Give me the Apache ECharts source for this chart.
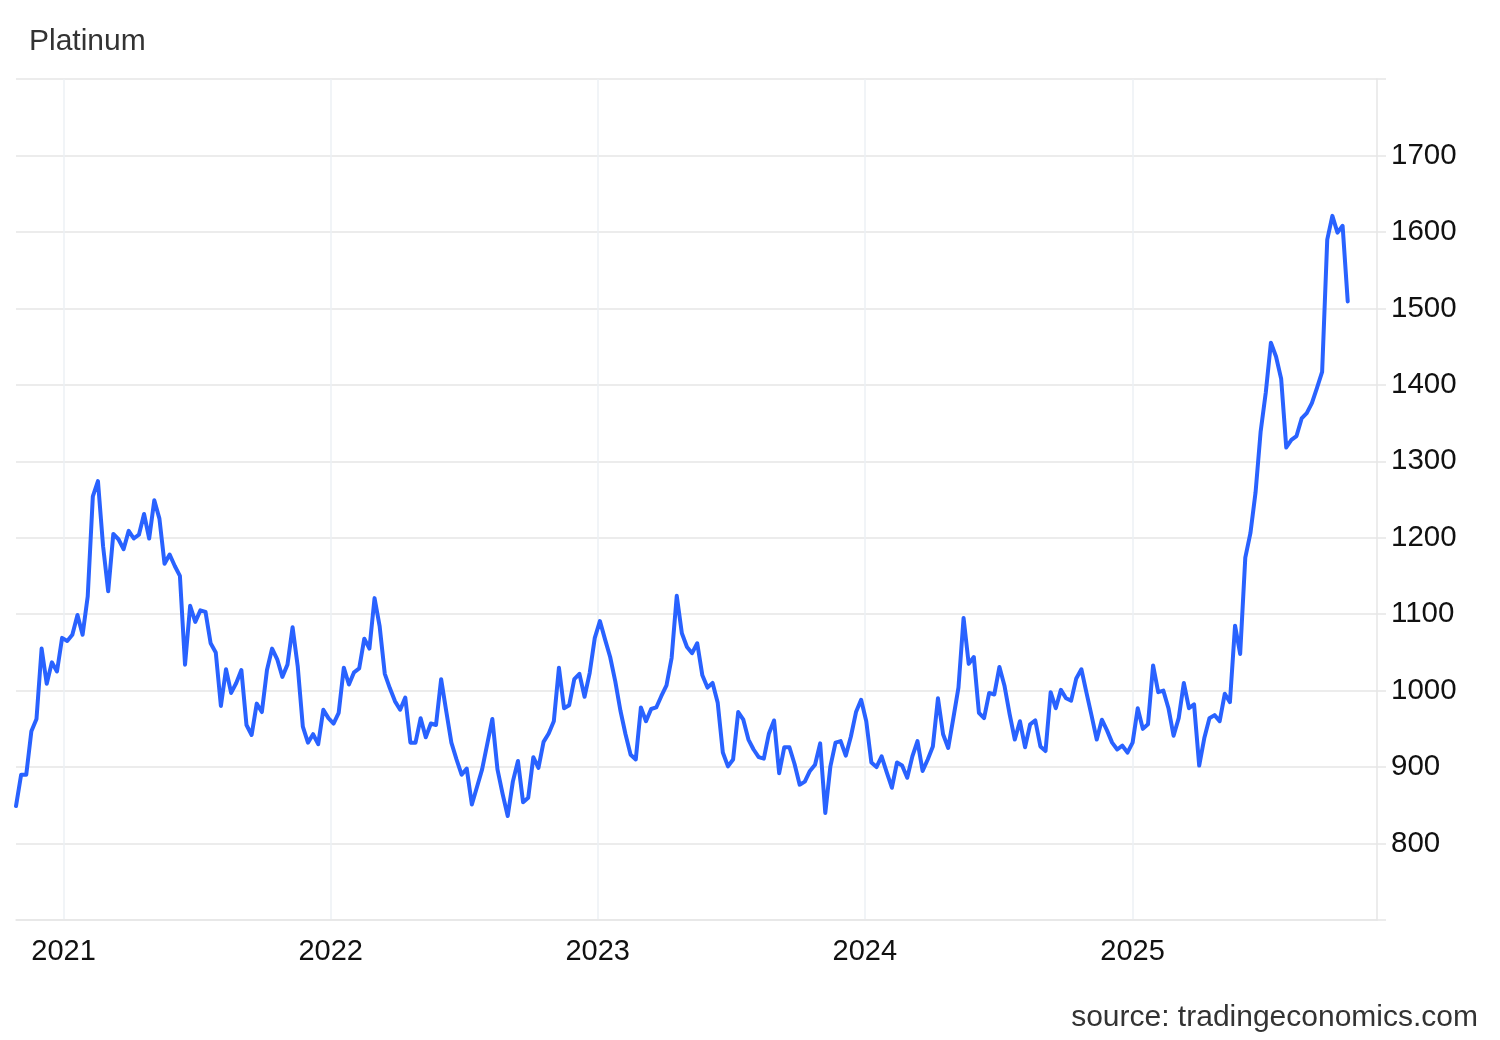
<!DOCTYPE html>
<html>
<head>
<meta charset="utf-8">
<script src="https://cdn.jsdelivr.net/npm/echarts@6/dist/echarts.min.js"></script>
<style>
html,body{margin:0;padding:0;background:#fff;}
#chart{width:1500px;height:1040px;}
</style>
</head>
<body>
<div id="chart"></div>
<script>
// Weekly platinum prices (USD/t.oz), first week 2020-10-28
const startDate = '2020-10-28';
const prices = [
849,890,890,947,963,1055,1009,1037,1025,1069,
1065,1073,1099,1073,1123,1254,1274,1189,1130,1205,
1198,1185,1209,1199,1204,1231,1199,1249,1225,1166,
1178,1163,1150,1034,1111,1090,1105,1103,1062,1050,
980,1028,997,1010,1027,955,942,983,972,1027,
1055,1041,1018,1034,1083,1032,953,932,943,930,
975,964,957,971,1030,1008,1024,1029,1068,1055,
1121,1084,1022,1003,986,975,991,932,932,964,
939,957,955,1015,973,932,910,890,898,851,
874,897,930,963,897,865,836,881,908,854,
860,913,899,933,944,960,1030,977,981,1015,
1022,992,1023,1069,1091,1067,1044,1012,974,943,
916,910,978,960,976,978,993,1007,1043,1124,
1075,1057,1049,1062,1020,1004,1010,984,919,901,
910,972,962,936,923,913,911,944,961,892,
926,926,904,877,881,895,903,931,840,901,
932,934,915,940,972,988,960,906,900,914,
893,873,906,902,886,914,934,895,910,927,
990,943,925,964,1004,1095,1035,1044,971,964,
997,995,1031,1006,969,936,960,926,956,961,
927,921,998,977,1001,990,987,1016,1028,997,
967,936,962,948,932,923,928,919,932,977,
950,956,1033,998,1000,977,941,964,1010,977,
982,902,938,964,968,960,996,985,1085,1048,
1174,1206,1259,1339,1390,1455,1437,1408,1318,1328,
1333,1356,1363,1376,1396,1417,1590,1621,1599,1608,
1509
];
const yearTicks = ['2021-01-01','2022-01-01','2023-01-01','2024-01-01','2025-01-01'];
const yTickMin = 700, yTickMax = 1800, yTickStep = 100;
const xMin = '2020-10-28', xMax = '2025-12-01';
const titleText = 'Platinum';
const sourceText = 'source: tradingeconomics.com';

const DAY = 86400000;
const toTs = d => Date.parse(d + 'T00:00:00Z');
const t0 = toTs(startDate);
const seriesData = prices.map((v, i) => [t0 + i * 7 * DAY, v]);
const yearTs = yearTicks.map(toTs);

const font = "'Liberation Sans', Arial, Helvetica, sans-serif";
const chart = echarts.init(document.getElementById('chart'), null, {renderer: 'canvas'});
chart.setOption({
  animation: false,
  backgroundColor: '#ffffff',
  title: {
    text: titleText,
    left: 29, top: 27, padding: 0,
    textStyle: {fontFamily: font, fontSize: 30, fontWeight: 'normal', color: '#333333'}
  },
  graphic: [{
    type: 'text',
    right: 22, top: 1003,
    style: {text: sourceText, font: '30px ' + font, fill: '#333333'}
  }],
  grid: {left: 16, right: 123, top: 79, bottom: 120, containLabel: false},
  xAxis: {
    type: 'value',
    min: toTs(xMin),
    max: toTs(xMax),
    axisLine: {show: true, onZero: false, lineStyle: {color: '#e6e6e6', width: 1.5}},
    axisTick: {show: false, customValues: yearTs},
    axisLabel: {
      customValues: yearTs,
      margin: 17,
      fontFamily: font, fontSize: 29, color: '#111111',
      formatter: v => String(new Date(v).getUTCFullYear())
    },
    splitLine: {show: true, lineStyle: {color: '#edf0f4', width: 1.5}}
  },
  yAxis: {
    type: 'value',
    position: 'right',
    min: yTickMin, max: yTickMax, interval: yTickStep,
    axisLine: {show: true, lineStyle: {color: '#e6e6e6', width: 1.5}},
    axisTick: {show: true, length: 9, lineStyle: {color: '#e6e6e6', width: 1.5}},
    axisLabel: {
      margin: 14,
      padding: [6, 0, 0, 0],
      fontFamily: font, fontSize: 29.5, color: '#111111',
      formatter: v => (v === yTickMin || v === yTickMax) ? '' : String(v)
    },
    splitLine: {show: true, lineStyle: {color: '#e6e6e6', width: 1.5}}
  },
  series: [{
    type: 'line',
    data: seriesData,
    showSymbol: false,
    symbol: 'none',
    lineStyle: {color: '#2962ff', width: 4, cap: 'round', join: 'round'},
    z: 5
  }]
});
</script>
</body>
</html>
